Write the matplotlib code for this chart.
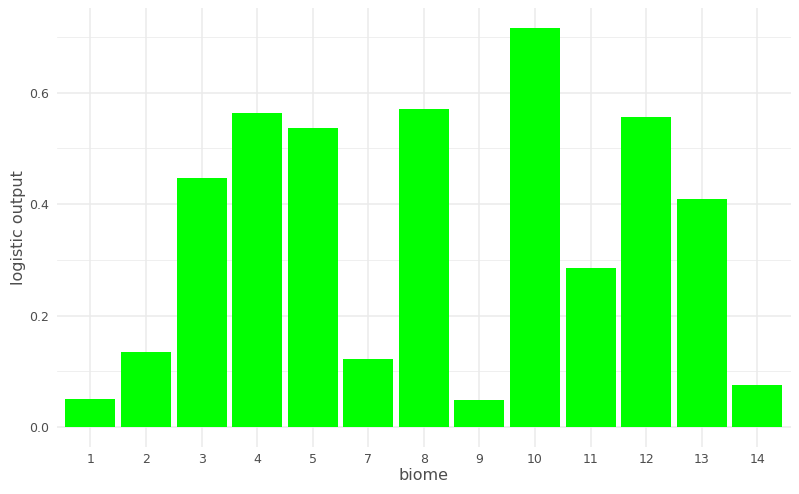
import matplotlib
matplotlib.use("Agg")
import matplotlib.pyplot as plt
import numpy as np

# biome values
biomes = ["1", "2", "3", "4", "5", "7", "8", "9", "10", "11", "12", "13", "14"]
logistic = [0.050, 0.134, 0.447, 0.563, 0.536, 0.122, 0.570, 0.048, 0.716, 0.286, 0.557, 0.410, 0.076]

grid_col = "#EBEBEB"
text_col = "#4D4D4D"

fig = plt.figure(figsize=(7.99, 4.94), dpi=100)
ax = fig.add_axes([57/799, 1 - 447/494, (790.7 - 57)/799, (447 - 8)/494])

x = np.arange(len(biomes))
ax.bar(x, logistic, width=0.9, color="#00FF00", edgecolor="none", zorder=2)

ymax = max(logistic)
ax.set_ylim(-0.05*ymax, ymax*1.05)
ax.set_xlim(-0.6, len(biomes) - 0.4)

ax.set_yticks([0.0, 0.2, 0.4, 0.6])
ax.set_yticklabels(["0.0", "0.2", "0.4", "0.6"])
ax.set_yticks([0.1, 0.3, 0.5, 0.7], minor=True)
ax.set_xticks(x)
ax.set_xticklabels(biomes)

ax.grid(True, which="major", color=grid_col, linewidth=1.1, zorder=0)
ax.grid(True, which="minor", axis="y", color=grid_col, linewidth=0.55, zorder=0)
ax.set_axisbelow(True)

for s in ax.spines.values():
    s.set_visible(False)
ax.tick_params(which="both", length=0, colors=text_col, labelsize=9)
ax.tick_params(axis="x", pad=4)
ax.tick_params(axis="y", pad=6)

ax.set_xlabel("biome", fontsize=11.5, color=text_col, labelpad=2)
ax.set_ylabel("logistic output", fontsize=11.5, color=text_col, labelpad=2)

fig.savefig("out.png", dpi=100)
